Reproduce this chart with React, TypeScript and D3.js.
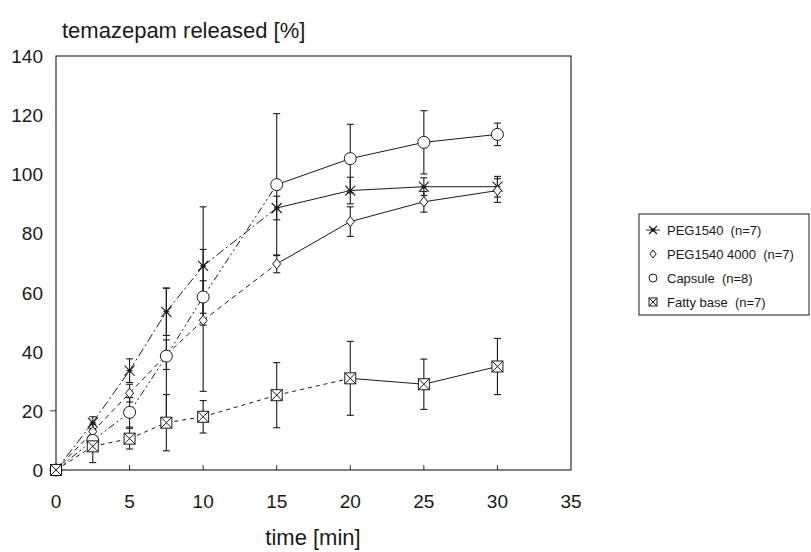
import React from "react";
import * as d3 from "d3";

const time = [0, 2.5, 5, 7.5, 10, 15, 20, 25, 30];
const peg1540 = [0, 16, 33.6, 53.5, 69, 88.6, 94.5, 95.8, 95.8];
const peg1540Sd = [0, 2, 4, 8, 20, 4, 4.5, 3, 3.5];
const peg4000 = [0, 13, 26, 39, 50.6, 69.7, 84, 90.7, 94.5];
const peg4000Sd = [0, 2.5, 3, 5, 24, 3, 5, 3.5, 4];
const capsule = [0, 10, 19.5, 38.5, 58.5, 96.5, 105.3, 110.8, 113.5];
const capsuleSd = [0, 3, 5, 23, 5.5, 24, 11.6, 10.7, 3.8];
const fatty = [0, 8, 10.6, 16, 18, 25.3, 31, 29, 35];
const fattySd = [0, 5.5, 3.5, 9.5, 5.5, 11, 12.5, 8.5, 9.5];

const xTicks = [0, 5, 10, 15, 20, 25, 30, 35];
const yTicks = [0, 20, 40, 60, 80, 100, 120, 140];

const seriesNames = ["PEG1540  (n=7)", "PEG1540 4000  (n=7)", "Capsule  (n=8)", "Fatty base  (n=7)"];

const FONT = "'Liberation Sans', Arial, Helvetica, sans-serif";
const INK = "#1a1a1a";

type Kind = "star" | "diamond" | "circle" | "boxx";

function Marker({ kind, x, y, s }: { kind: Kind; x: number; y: number; s: number }) {
  if (kind === "star") {
    return (
      <g stroke={INK} strokeWidth={1.1} fill="none">
        <line x1={x - s} y1={y - s} x2={x + s} y2={y + s} />
        <line x1={x - s} y1={y + s} x2={x + s} y2={y - s} />
        <line x1={x - s * 0.6} y1={y} x2={x + s * 0.6} y2={y} />
        <circle cx={x} cy={y} r={1.3} fill={INK} />
      </g>
    );
  }
  if (kind === "diamond") {
    const w = s * 0.8;
    return (
      <path
        d={`M${x},${y - s}L${x + w},${y}L${x},${y + s}L${x - w},${y}Z`}
        fill="#fff"
        stroke={INK}
        strokeWidth={1}
      />
    );
  }
  if (kind === "circle") {
    return <circle cx={x} cy={y} r={s} fill="#fff" stroke={INK} strokeWidth={1} />;
  }
  return (
    <g stroke={INK} strokeWidth={1}>
      <rect x={x - s} y={y - s} width={2 * s} height={2 * s} fill="#fff" />
      <line x1={x - s} y1={y - s} x2={x + s} y2={y + s} />
      <line x1={x - s} y1={y + s} x2={x + s} y2={y - s} />
    </g>
  );
}

export default function App() {
  const x = d3.scaleLinear().domain([0, 35]).range([56, 571]);
  const y = d3.scaleLinear().domain([0, 140]).range([470, 56]);

  const series = [
    { vals: peg1540, sd: peg1540Sd, kind: "star" as Kind, size: 5, dash: "9,3,2,3", solidFrom: 15 },
    { vals: peg4000, sd: peg4000Sd, kind: "diamond" as Kind, size: 5, dash: "5,4", solidFrom: 15 },
    { vals: capsule, sd: capsuleSd, kind: "circle" as Kind, size: 6, dash: "7,3,2,3,2,3", solidFrom: 15 },
    { vals: fatty, sd: fattySd, kind: "boxx" as Kind, size: 5.5, dash: "4,4", solidFrom: 20 },
  ];

  const legendX = 653;
  const legendRows = [230, 254, 278, 302];

  return (
    <svg
      width={811}
      height={552}
      style={{ position: "absolute", left: 0, top: 0, background: "#fff" }}
      fontFamily={FONT}
    >
      <rect x={0} y={0} width={811} height={552} fill="#fff" />
      {/* frame */}
      <rect x={x(0)} y={y(140)} width={x(35) - x(0)} height={y(0) - y(140)} fill="none" stroke={INK} strokeWidth={1.1} />
      {/* x ticks */}
      {xTicks.map((t) => (
        <g key={"xt" + t}>
          {t > 0 && t < 35 && <line x1={x(t)} x2={x(t)} y1={y(0)} y2={y(0) - 5} stroke={INK} strokeWidth={0.9} />}
          <text x={x(t)} y={508} fontSize={19} textAnchor="middle" fill={INK}>
            {t}
          </text>
        </g>
      ))}
      {yTicks.map((t) => (
        <text key={"yt" + t} x={43} y={y(t) + 7} fontSize={19} textAnchor="end" fill={INK}>
          {t}
        </text>
      ))}
      <line x1={50} x2={56} y1={y(20)} y2={y(20)} stroke={INK} strokeWidth={0.9} />
      <text x={62} y={38} fontSize={22} fill={INK}>
        temazepam released [%]
      </text>
      <text x={313} y={545} fontSize={22} textAnchor="middle" fill={INK}>
        time [min]
      </text>

      {/* lines */}
      {series.map((s, si) => (
        <g key={"l" + si}>
          {time.slice(0, -1).map((t, i) => (
            <line
              key={i}
              x1={x(t)}
              y1={y(s.vals[i])}
              x2={x(time[i + 1])}
              y2={y(s.vals[i + 1])}
              stroke={INK}
              strokeWidth={1}
              strokeDasharray={t >= s.solidFrom ? undefined : s.dash}
            />
          ))}
        </g>
      ))}

      {/* error bars */}
      {series.map((s, si) => (
        <g key={"e" + si} stroke={INK} strokeWidth={1.1}>
          {time.map((t, i) =>
            s.sd[i] > 0 ? (
              <g key={i}>
                <line x1={x(t)} x2={x(t)} y1={y(s.vals[i] - s.sd[i])} y2={y(s.vals[i] + s.sd[i])} />
                <line x1={x(t) - 3.5} x2={x(t) + 3.5} y1={y(s.vals[i] - s.sd[i])} y2={y(s.vals[i] - s.sd[i])} />
                <line x1={x(t) - 3.5} x2={x(t) + 3.5} y1={y(s.vals[i] + s.sd[i])} y2={y(s.vals[i] + s.sd[i])} />
              </g>
            ) : null
          )}
        </g>
      ))}

      {/* markers */}
      {series.map((s, si) => (
        <g key={"m" + si}>
          {time.map((t, i) => (
            <Marker key={i} kind={s.kind} x={x(t)} y={y(s.vals[i])} s={s.size} />
          ))}
        </g>
      ))}

      {/* legend */}
      <rect x={639} y={214} width={170} height={101} fill="#fff" stroke={INK} strokeWidth={1} />
      {series.map((s, si) => (
        <g key={"lg" + si}>
          {s.kind === "star" && (
            <line x1={legendX - 7} x2={legendX + 7} y1={legendRows[si]} y2={legendRows[si]} stroke={INK} strokeWidth={0.9} />
          )}
          <Marker kind={s.kind} x={legendX} y={legendRows[si]} s={4} />
          <text x={667} y={legendRows[si] + 5} fontSize={13} fill={INK} style={{ whiteSpace: "pre" }}>
            {seriesNames[si]}
          </text>
        </g>
      ))}
    </svg>
  );
}
